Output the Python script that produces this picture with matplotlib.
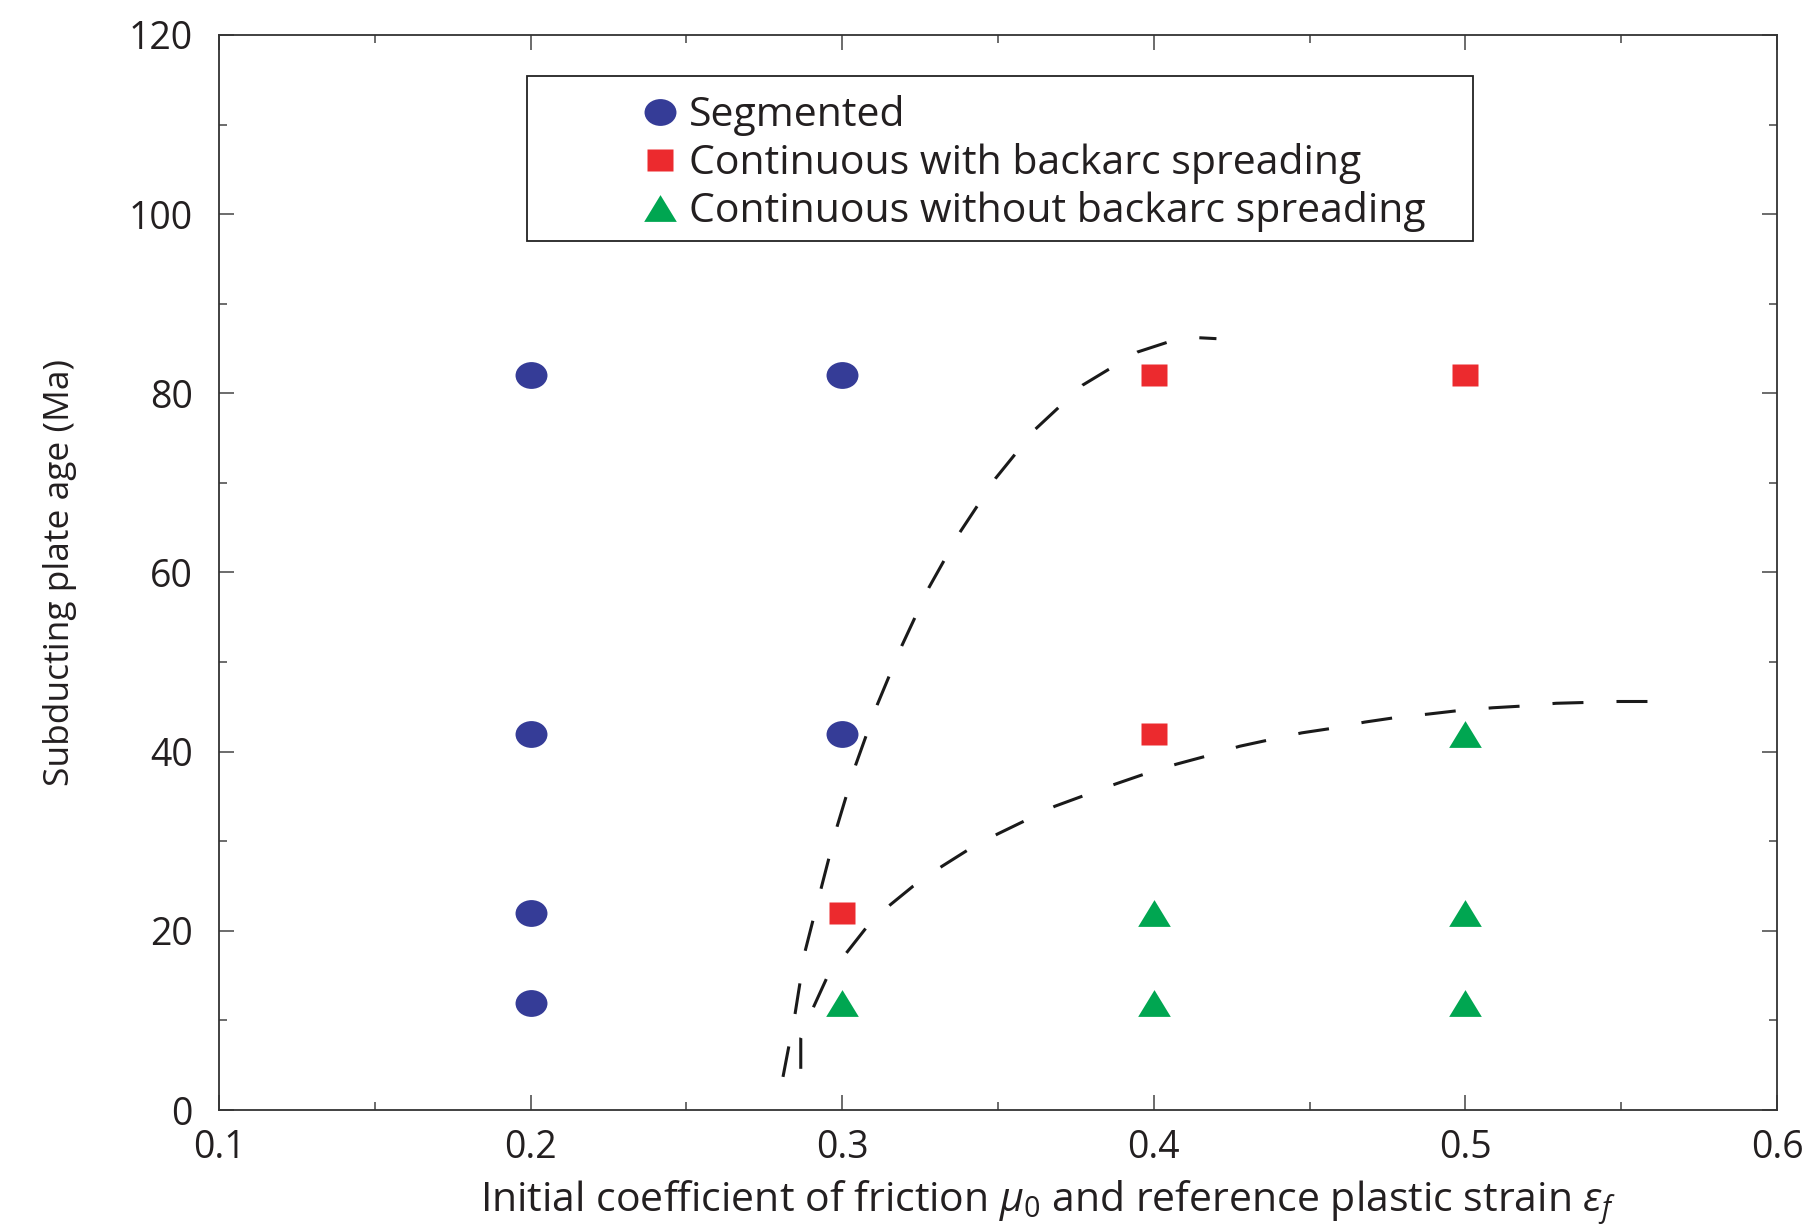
import numpy as np
import matplotlib
matplotlib.use("Agg")
import matplotlib.pyplot as plt
from matplotlib.path import Path
from matplotlib.patches import Rectangle

plt.rcParams['font.family'] = ['Open Sans', 'DejaVu Sans']
plt.rcParams['mathtext.fontset'] = 'custom'
plt.rcParams['mathtext.rm'] = 'Open Sans'
plt.rcParams['mathtext.it'] = 'Open Sans:italic'
plt.rcParams['lines.scale_dashes'] = False

# ---------------- data ----------------
seg_x = [0.2, 0.3, 0.2, 0.3, 0.2, 0.2]
seg_y = [82, 82, 42, 42, 22, 12]

back_x = [0.4, 0.5, 0.4, 0.3]
back_y = [82, 82, 42, 22]

noback_x = [0.5, 0.3, 0.4, 0.5, 0.4, 0.5]
noback_y = [42, 12, 22, 22, 12, 12]

# boundary curve 1 (steep)
c1_x = [0.2810, 0.2849, 0.2880, 0.2932, 0.2984, 0.3043, 0.3112, 0.3191,
        0.3278, 0.3378, 0.3492, 0.3620, 0.3771, 0.3947, 0.4044, 0.4146, 0.4201]
c1_y = [3.7, 10.8, 17.6, 24.7, 31.7, 38.5, 45.2, 51.8,
        58.3, 64.5, 70.5, 76.0, 80.9, 84.6, 85.7, 86.2, 86.1]

# boundary curve 2 (flattening)
c2_x = [0.2867, 0.2867, 0.2908, 0.2950, 0.3015, 0.3076, 0.3154, 0.3228,
        0.3320, 0.3402, 0.3498, 0.3587, 0.3682, 0.3776, 0.3878, 0.3970,
        0.4072, 0.4168, 0.4275, 0.4368, 0.4475, 0.4571, 0.4677, 0.4775,
        0.4882, 0.4982, 0.5088, 0.5188, 0.5291, 0.5395, 0.5489, 0.5589]
c2_y = [4.6, 8.0, 11.5, 14.7, 17.6, 20.3, 22.9, 25.0,
        27.2, 29.0, 30.8, 32.3, 33.9, 35.1, 36.4, 37.5,
        38.6, 39.5, 40.6, 41.3, 42.1, 42.6, 43.3, 43.8,
        44.2, 44.6, 44.9, 45.1, 45.4, 45.5, 45.6, 45.6]

labels = ["Segmented", "Continuous with backarc spreading",
          "Continuous without backarc spreading"]
xticks = [0.1, 0.2, 0.3, 0.4, 0.5, 0.6]
yticks = [0, 20, 40, 60, 80, 100, 120]

# ---------------- markers ----------------
circ = Path.unit_circle()
ell_marker = Path(circ.vertices * np.array([1.0, 0.84]), circ.codes)
rect_marker = Path([(-1, -0.85), (1, -0.85), (1, 0.85), (-1, 0.85), (-1, -0.85)],
                   [Path.MOVETO, Path.LINETO, Path.LINETO, Path.LINETO, Path.CLOSEPOLY])
tri_marker = Path([(-1, -0.82), (1, -0.82), (0, 0.82), (-1, -0.82)],
                  [Path.MOVETO, Path.LINETO, Path.LINETO, Path.CLOSEPOLY])

blue = '#353C97'
red = '#EC2A2E'
green = '#00A651'
txt = '#231F20'

fig = plt.figure(figsize=(18.07, 12.26), dpi=100)
ax = fig.add_axes([0.1212, 0.0946, 0.8622, 0.8769])

dash = (22.3, 23.8)
ax.plot(c1_x, c1_y, color='#1a1a1a', lw=2.2, dashes=dash, zorder=2)
ax.plot(c2_x, c2_y, color='#1a1a1a', lw=2.2, dashes=dash, zorder=2)

h1, = ax.plot(seg_x, seg_y, ls='none', marker=ell_marker, ms=23, color=blue,
              mec='none', zorder=3)
h2, = ax.plot(back_x, back_y, ls='none', marker=rect_marker, ms=18.7, color=red,
              mec='none', zorder=3)
h3, = ax.plot(noback_x, noback_y, ls='none', marker=tri_marker, ms=23.5, color=green,
              mec='none', zorder=3)

ax.set_xlim(0.1, 0.6)
ax.set_ylim(0, 120)
ax.set_xticks(xticks)
ax.set_xticklabels([f"{t:g}" for t in xticks])
ax.set_yticks(yticks)
ax.set_xticks(np.arange(0.15, 0.6, 0.1), minor=True)
ax.set_yticks(np.arange(10, 120, 20), minor=True)

ax.tick_params(which='both', direction='in', top=True, right=True,
               color='#444444', width=1.1)
ax.tick_params(which='major', length=11, labelsize=27, labelcolor=txt)
ax.tick_params(axis='x', which='major', pad=14)
ax.tick_params(axis='y', which='major', pad=19)
ax.tick_params(which='minor', length=6)
for s in ax.spines.values():
    s.set_color('#333333')
    s.set_linewidth(1.3)

ax.set_xlabel(r"Initial coefficient of friction $\mu_0$ and reference plastic strain $\varepsilon_f$",
              fontsize=29.5, color=txt)
ax.xaxis.set_label_coords(0.532, -0.086)
ax.xaxis.label.set_va('center')
ax.set_ylabel("Subducting plate age (Ma)", fontsize=25.5, color=txt)
ax.yaxis.set_label_coords(-0.102, 0.5)
ax.yaxis.label.set_va('center')

# legend frame (axes coords)
x0 = (526.6 - 219) / 1558
x1 = (1472.7 - 219) / 1558
ytop = (1110 - 76) / 1075
ybot = (1110 - 240.9) / 1075
ax.add_patch(Rectangle((x0, ybot), x1 - x0, ytop - ybot, transform=ax.transAxes,
                       fill=False, edgecolor='#222222', lw=1.3, zorder=4))
leg = ax.legend([h1, h2, h3], labels, loc='upper left',
                bbox_to_anchor=((640 - 219) / 1558, (1110 - 95) / 1075),
                frameon=False, fontsize=29.5, handlelength=1.0, handletextpad=0.2,
                labelspacing=0.17, borderpad=0, borderaxespad=0,
                markerscale=1.0, labelcolor=txt)

fig.savefig("out.png", dpi=100)
